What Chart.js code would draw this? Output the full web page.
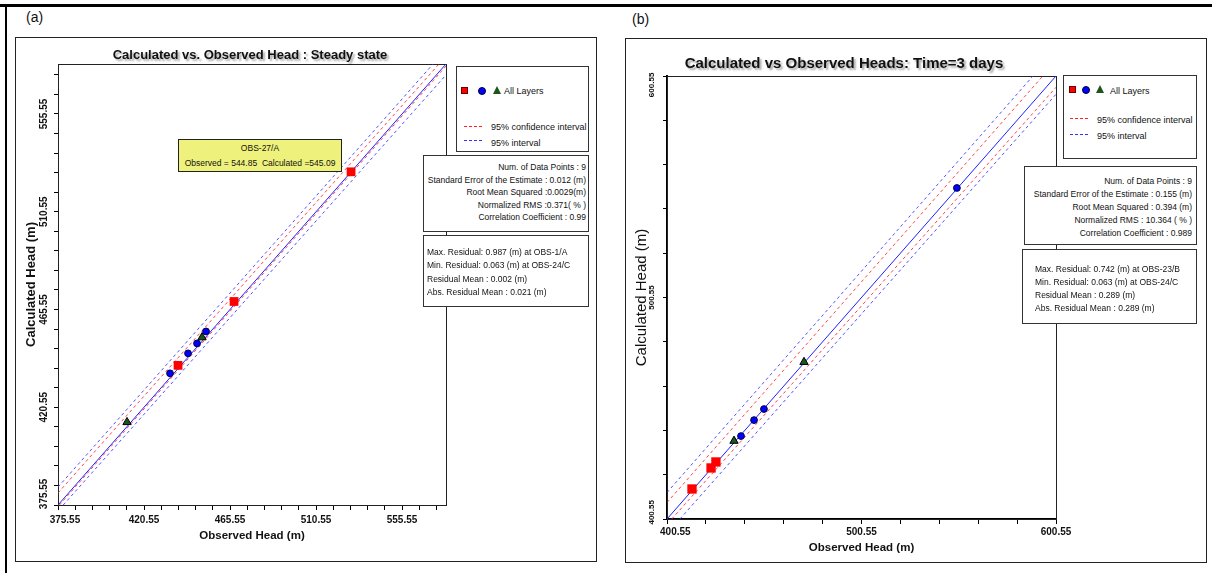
<!DOCTYPE html>
<html>
<head>
<meta charset="utf-8">
<script src="https://cdn.jsdelivr.net/npm/chart.js@4.4.1/dist/chart.umd.min.js"></script>
<style>
  body { margin: 0; width: 1212px; height: 573px; background: #fff; position: relative; overflow: hidden;
         font-family: 'Liberation Sans', Arial, sans-serif; color: #111; }
  .rule { position: absolute; background: #000; }
  .frame { position: absolute; border: 1px solid #222; box-sizing: border-box; }
  canvas { position: absolute; }
  .box { position: absolute; background: #fff; border: 1px solid #333; box-sizing: border-box; }
  .tip { position: absolute; background: #eef27c; border: 1px solid #222; box-sizing: border-box; }
  .t { position: absolute; white-space: nowrap; line-height: 1; }
  .tl { transform: translateY(-50%); }
  .tr { transform: translate(-100%, -50%); }
  .tc { transform: translate(-50%, -50%); }
  .title { font-weight: bold; text-shadow: 2px 2px 2px rgba(0,0,0,0.35); }
  .stat { font-size: 8.5px; }
  .leg { font-size: 9px; }
  .sq { position: absolute; width: 7px; height: 7px; background: #f00; border: 1px solid #600; box-sizing: border-box; }
  .dot { position: absolute; width: 8px; height: 8px; border-radius: 50%; background: #00f; border: 1px solid #003; box-sizing: border-box; }
  .tri { position: absolute; width: 0; height: 0; border-left: 4px solid transparent; border-right: 4px solid transparent; border-bottom: 8px solid #1c561c; }
  .dash { position: absolute; height: 0; }
  .dash.red { border-top: 1px dashed #ff2020; }
  .dash.blue { border-top: 1px dashed #3030ff; }
</style>
</head>
<body>

<div class="rule" style="left:0;top:4px;width:1212px;height:3px"></div>
<div class="rule" style="left:5px;top:4px;width:2px;height:569px"></div>

<div class="t tl" style="left:26px;top:17px;font-size:14px">(a)</div>
<div class="t tl" style="left:632px;top:19px;font-size:14px">(b)</div>

<div class="frame" style="left:15px;top:37px;width:582px;height:525px"></div>
<div class="frame" style="left:625px;top:38px;width:582px;height:525px"></div>

<canvas id="chartA" width="580" height="523" style="left:16px;top:38px"></canvas>
<canvas id="chartB" width="580" height="523" style="left:626px;top:39px"></canvas>

<div class="t tc title" style="left:250px;top:54px;font-size:13px">Calculated vs. Observed Head : Steady state</div>
<div class="t tc title" style="left:844px;top:62px;font-size:15px">Calculated vs Observed Heads: Time=3 days</div>

<!-- panel (a) legend and statistics -->
<div class="box" style="left:456px;top:66px;width:133px;height:86px"></div>
<div class="sq" style="left:461px;top:87px"></div>
<div class="dot" style="left:478px;top:87px"></div>
<div class="tri" style="left:493px;top:86px"></div>
<div class="t tl leg" style="left:504px;top:91px">All Layers</div>
<div class="dash red" style="left:464px;top:126px;width:18px"></div>
<div class="t tl leg" style="left:491px;top:127px">95% confidence interval</div>
<div class="dash blue" style="left:464px;top:140px;width:18px"></div>
<div class="t tl leg" style="left:491px;top:143px">95% interval</div>

<div class="box" style="left:423px;top:155px;width:166px;height:77px"></div>
<div class="t tr stat" style="left:586px;top:167px">Num. of Data Points : 9</div>
<div class="t tr stat" style="left:586px;top:179.5px">Standard Error of the Estimate : 0.012 (m)</div>
<div class="t tr stat" style="left:586px;top:192px">Root Mean Squared :0.0029(m)</div>
<div class="t tr stat" style="left:586px;top:204.5px">Normalized RMS :0.371( % )</div>
<div class="t tr stat" style="left:586px;top:217px">Correlation Coefficient : 0.99</div>

<div class="box" style="left:423px;top:235px;width:166px;height:72px"></div>
<div class="t tl stat" style="left:427px;top:252px">Max. Residual: 0.987 (m) at OBS-1/A</div>
<div class="t tl stat" style="left:427px;top:265px">Min. Residual: 0.063 (m) at OBS-24/C</div>
<div class="t tl stat" style="left:427px;top:279px">Residual Mean : 0.002 (m)</div>
<div class="t tl stat" style="left:427px;top:292px">Abs. Residual Mean : 0.021 (m)</div>

<div class="tip" style="left:178px;top:139px;width:164px;height:33px"></div>
<div class="t tc stat" style="left:260px;top:148px">OBS-27/A</div>
<div class="t tc stat" style="left:260px;top:163px">Observed = 544.85 &nbsp;Calculated =545.09</div>

<!-- panel (b) legend and statistics -->
<div class="box" style="left:1063px;top:75px;width:134px;height:84px"></div>
<div class="sq" style="left:1069px;top:86px"></div>
<div class="dot" style="left:1082px;top:86px"></div>
<div class="tri" style="left:1096px;top:85px"></div>
<div class="t tl leg" style="left:1110px;top:91px">All Layers</div>
<div class="dash red" style="left:1070px;top:118px;width:18px"></div>
<div class="t tl leg" style="left:1097px;top:120px">95% confidence interval</div>
<div class="dash blue" style="left:1070px;top:134px;width:18px"></div>
<div class="t tl leg" style="left:1097px;top:136px">95% interval</div>

<div class="box" style="left:1024px;top:166px;width:173px;height:79px"></div>
<div class="t tr stat" style="left:1192px;top:181px">Num. of Data Points : 9</div>
<div class="t tr stat" style="left:1192px;top:194px">Standard Error of the Estimate : 0.155 (m)</div>
<div class="t tr stat" style="left:1192px;top:207px">Root Mean Squared : 0.394 (m)</div>
<div class="t tr stat" style="left:1192px;top:220px">Normalized RMS : 10.364 ( % )</div>
<div class="t tr stat" style="left:1192px;top:233px">Correlation Coefficient : 0.989</div>

<div class="box" style="left:1022px;top:249px;width:175px;height:75px"></div>
<div class="t tl stat" style="left:1035px;top:269px">Max. Residual: 0.742 (m) at OBS-23/B</div>
<div class="t tl stat" style="left:1035px;top:282px">Min. Residual: 0.063 (m) at OBS-24/C</div>
<div class="t tl stat" style="left:1035px;top:294.5px">Residual Mean : 0.289 (m)</div>
<div class="t tl stat" style="left:1035px;top:307.5px">Abs. Residual Mean : 0.289 (m)</div>

<script>
// ===== DATA: panel (a) steady state =====
const redA = [[438.35, 439.84], [467.65, 469.23], [528.88, 528.92]];
const blueA = [[434.16, 436.16], [443.58, 445.35], [448.29, 449.94], [453.0, 455.45]];
const greenA = [[411.66, 413.66], [450.9, 452.7]];
const oneToOneA = [[375.55, 375.55], [578.55, 578.55]];
const ciUpperA = [[375.55, 381.1], [574.9, 578.55]];
const ciLowerA = [[376.3, 375.55], [578.55, 577.6]];
const piUpperA = [[375.55, 383.8], [571.8, 578.55]];
const piLowerA = [[378.3, 375.55], [578.55, 573.5]];
const tickLabelsA = ['375.55', '420.55', '465.55', '510.55', '555.55'];

// ===== DATA: panel (b) time = 3 days =====
const redB = [[413.4, 414.1], [423.2, 423.6], [425.7, 426.3]];
const blueB = [[438.6, 438.0], [445.3, 445.2], [450.4, 450.2], [549.6, 550.0]];
const greenB = [[435.0, 435.8], [471.0, 471.4]];
const oneToOneB = [[400.55, 400.55], [600.55, 600.55]];
const ciUpperB = [[400.55, 408.0], [593.8, 600.55]];
const ciLowerB = [[403.0, 400.55], [600.55, 595.45]];
const piUpperB = [[400.55, 412.5], [588.7, 600.55]];
const piLowerB = [[407.2, 400.55], [600.55, 592.3]];
const tickLabelsB = ['400.55', '500.55', '600.55'];

const FONT = "'Liberation Sans', Arial, sans-serif";
const NBSP = '\u00a0';

// major ticks come from the labels, 4 minor ticks between them
function buildTicks(labels, max) {
    const first = parseFloat(labels[0]);
    const step = (parseFloat(labels[1]) - first) / 5;
    const ticks = [];
    for (let k = 0; first + k * step <= max + 1e-6; k++) ticks.push(first + k * step);
    return ticks;
}

// box round the plot area
const plotFrame = {
    id: 'plotFrame',
    beforeDatasetsDraw(chart) {
        const { ctx, chartArea: a } = chart;
        ctx.save();
        ctx.strokeStyle = '#222';
        ctx.lineWidth = 1;
        ctx.strokeRect(Math.round(a.left) + 0.5, Math.round(a.top) + 0.5,
                       Math.round(a.right - a.left), Math.round(a.bottom - a.top));
        ctx.restore();
    }
};

function drawPanel(canvasId, p) {
    const canvas = document.getElementById(canvasId);
    const pts = arr => arr.map(([x, y]) => ({ x, y }));
    const line = (data, color, dash) => ({
        data: pts(data), showLine: true, borderColor: color, borderWidth: 1,
        borderDash: dash, pointRadius: 0, order: 5
    });
    const ticks = buildTicks(p.labels, p.max);

    // end labels are nudged inwards like the original software does
    const tickLabel = (nudge) => (v, i) => {
        if (i % 5 !== 0) return '';
        const text = p.labels[i / 5] || '';
        const n = nudge[i / 5];
        if (!text || !n) return text;
        return n > 0 ? NBSP.repeat(n) + text : text + NBSP.repeat(-n);
    };

    const axis = (isX) => ({
        type: 'linear',
        min: p.min,
        max: p.max,
        afterBuildTicks: s => { s.ticks = ticks.map(value => ({ value })); },
        afterFit: s => {
            if (isX) s.height = p.xHeight;
            else s.width = p.yWidth;
        },
        grid: { drawOnChartArea: false, drawTicks: true, tickLength: isX ? 5 : 4, color: '#000', lineWidth: 1 },
        border: { display: true, color: '#000', width: p.axisWidth },
        ticks: isX
            ? { autoSkip: false, maxRotation: 0, padding: p.xTickPad, color: '#111',
                font: { family: FONT, size: 10, weight: 'bold' }, callback: tickLabel(p.xNudge) }
            : { autoSkip: false, minRotation: 90, maxRotation: 90, crossAlign: 'center',
                padding: p.yTickPad, color: '#111',
                font: { family: FONT, size: p.yTickSize, weight: 'bold' }, callback: tickLabel(p.yNudge) },
        title: isX
            ? { display: true, text: 'Observed Head (m)', color: '#111',
                font: { family: FONT, size: 11.5, weight: 'bold' }, padding: { top: 0, bottom: p.xTitlePad } }
            : { display: true, text: 'Calculated Head (m)', color: '#111',
                font: { family: FONT, size: p.yTitleSize, weight: p.yTitleWeight }, padding: { top: p.yTitlePad, bottom: 0 } }
    });

    new Chart(canvas, {
        type: 'scatter',
        data: {
            datasets: [
                { data: pts(p.red), pointStyle: 'rect', pointRadius: p.sq, backgroundColor: '#ff0000',
                  borderColor: '#ff0000', borderWidth: 0, order: 1 },
                { data: pts(p.blue), pointStyle: 'circle', pointRadius: 3.4, backgroundColor: '#0000ff',
                  borderColor: '#000044', borderWidth: 1, order: 1 },
                { data: pts(p.green), pointStyle: 'triangle', pointRadius: 4.8, backgroundColor: '#1c561c',
                  borderColor: '#000', borderWidth: 1, order: 1 },
                line(p.piUpper, 'rgba(50,50,255,0.85)', [3, 3]),
                line(p.ciUpper, 'rgba(255,30,30,0.85)', [3, 3]),
                line(p.piLower, 'rgba(50,50,255,0.85)', [3, 3]),
                line(p.oneToOne, '#2020ff', []),
                { ...line(p.ciLower, 'rgba(255,30,30,0.85)', [3, 3]), order: 4 }
            ]
        },
        options: {
            responsive: false,
            animation: false,
            devicePixelRatio: 1,
            events: [],
            layout: { padding: { left: 0, top: p.padTop, right: p.padRight, bottom: 0 } },
            plugins: { legend: { display: false }, tooltip: { enabled: false } },
            scales: { x: axis(true), y: axis(false) }
        },
        plugins: [plotFrame]
    });
}

drawPanel('chartA', {
    min: 375.55, max: 578.55, labels: tickLabelsA,
    red: redA, blue: blueA, green: greenA,
    oneToOne: oneToOneA, ciUpper: ciUpperA, ciLower: ciLowerA, piUpper: piUpperA, piLower: piLowerA,
    sq: 6.2, padTop: 26, padRight: 150, yWidth: 42, xHeight: 56, axisWidth: 1,
    xTickPad: 4, xTitlePad: 18, yTickPad: -17, yTickSize: 10,
    yTitleSize: 13, yTitleWeight: 'bold', yTitlePad: 7.7,
    xNudge: [5], yNudge: [8]
});

drawPanel('chartB', {
    min: 400.55, max: 600.55, labels: tickLabelsB,
    red: redB, blue: blueB, green: greenB,
    oneToOne: oneToOneB, ciUpper: ciUpperB, ciLower: ciLowerB, piUpper: piUpperB, piLower: piLowerB,
    sq: 6.6, padTop: 37, padRight: 150, yWidth: 41, xHeight: 43, axisWidth: 2,
    xTickPad: 2, xTitlePad: 7, yTickPad: -10.4, yTickSize: 8,
    yTitleSize: 15, yTitleWeight: 'normal', yTitlePad: 7,
    xNudge: [6], yNudge: [6, 0, -8]
});
</script>
</body>
</html>
